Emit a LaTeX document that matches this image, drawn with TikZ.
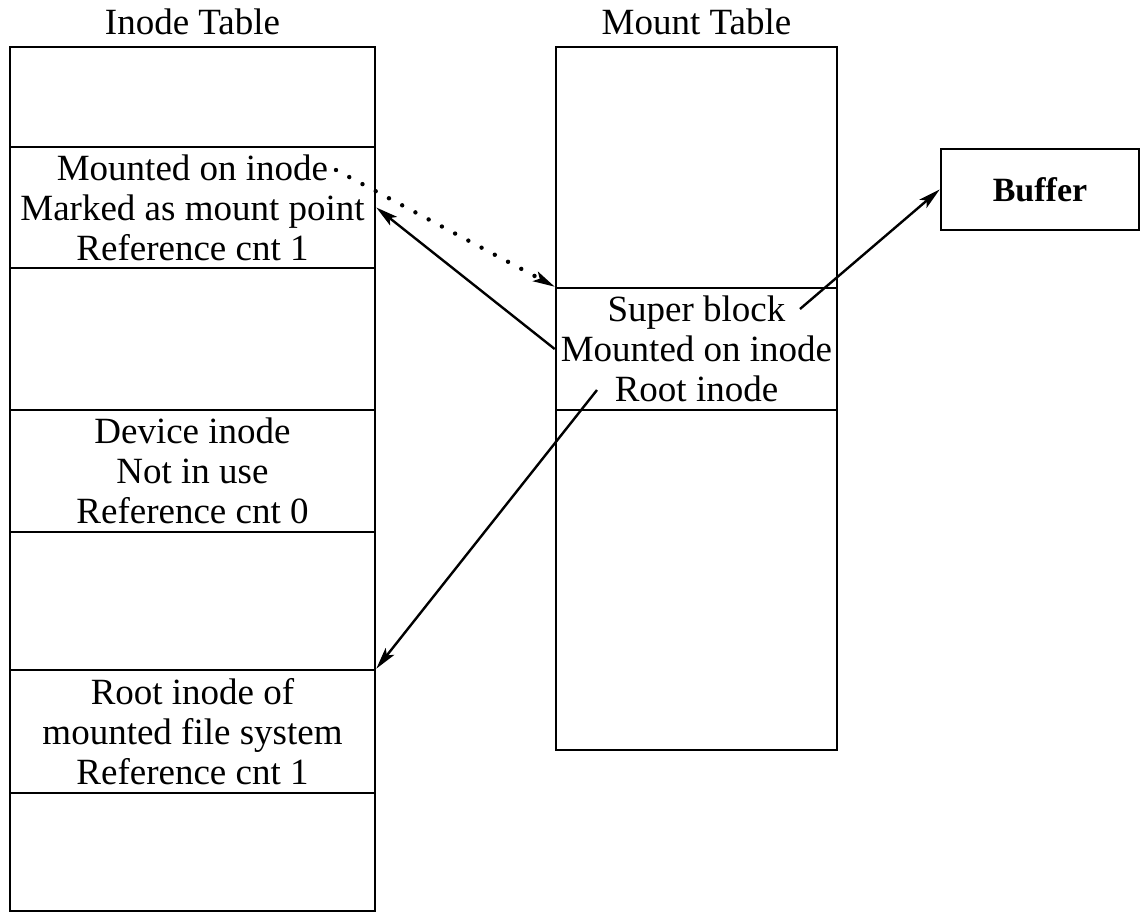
\documentclass[tikz,border=0pt]{standalone}
\usepackage{fontspec}
\setmainfont{Liberation Serif}
\usetikzlibrary{arrows.meta,positioning}

\tikzset{
  cell/.style={draw,line width=1.3pt,inner sep=0pt,align=center,
    font=\fontsize{18.5}{20}\selectfont},
  title/.style={inner sep=0pt,font=\fontsize{18.5}{20}\selectfont},
  link/.style={line width=1.2pt,-{Stealth[length=11pt,width=5.5pt,inset=2.5pt]}},
  dotlink/.style={line width=2.2pt,line cap=round,dash pattern=on 0pt off 7.5pt,
    -{Stealth[length=11pt,width=5.5pt,inset=2.5pt,line width=1pt]}}
}

\begin{document}
\begin{tikzpicture}[x=0.5pt,y=-0.5pt]
        \useasboundingbox (0,0) rectangle (1141,915);
        % inode table
        \foreach \n/\ya/\yb/\txt in {ino1/47/147/{},
            ino2/147/268/{Mounted on inode\\Marked as mount point\\Reference cnt 1},
            ino3/268/410/{},
            ino4/410/532/{Device inode\\Not in use\\Reference cnt 0},
            ino5/532/670/{},
            ino6/670/793/{Root inode of\\mounted file system\\Reference cnt 1},
            ino7/793/911/{}}
          \node[cell,minimum width=182.5pt,minimum height={(\yb-\ya)*0.5pt}] (\n) at (192.5,{(\ya+\yb)/2}) {\txt};
        % mount table
        \foreach \n/\ya/\yb/\txt in {mnt1/47/288/{},
            mnt2/288/410/{Super block\\Mounted on inode\\Root inode},
            mnt3/410/750/{}}
          \node[cell,minimum width=140.5pt,minimum height={(\yb-\ya)*0.5pt}] (\n) at (696.5,{(\ya+\yb)/2}) {\txt};
        \node[cell,font=\fontsize{17}{20}\selectfont\bfseries,minimum width=99pt,minimum height=40.5pt] (buf) at (1040,189.5) {Buffer};
        \node[title,above=5pt of ino1] (ititle) {Inode Table};
        \node[title,above=5pt of mnt1] (mtitle) {Mount Table};
        \coordinate (mpt) at (336,170);
        \coordinate (sbk) at (800,309);
        \coordinate (rti) at (597,390);
        \draw[dotlink] (mpt) -- (mnt2.north west);
        \draw[link] (mnt2.west) -- (ino2.east);
        \draw[link] (sbk) -- (buf.west);
        \draw[link] (rti) -- (ino6.north east);
      \end{tikzpicture}
\end{document}
